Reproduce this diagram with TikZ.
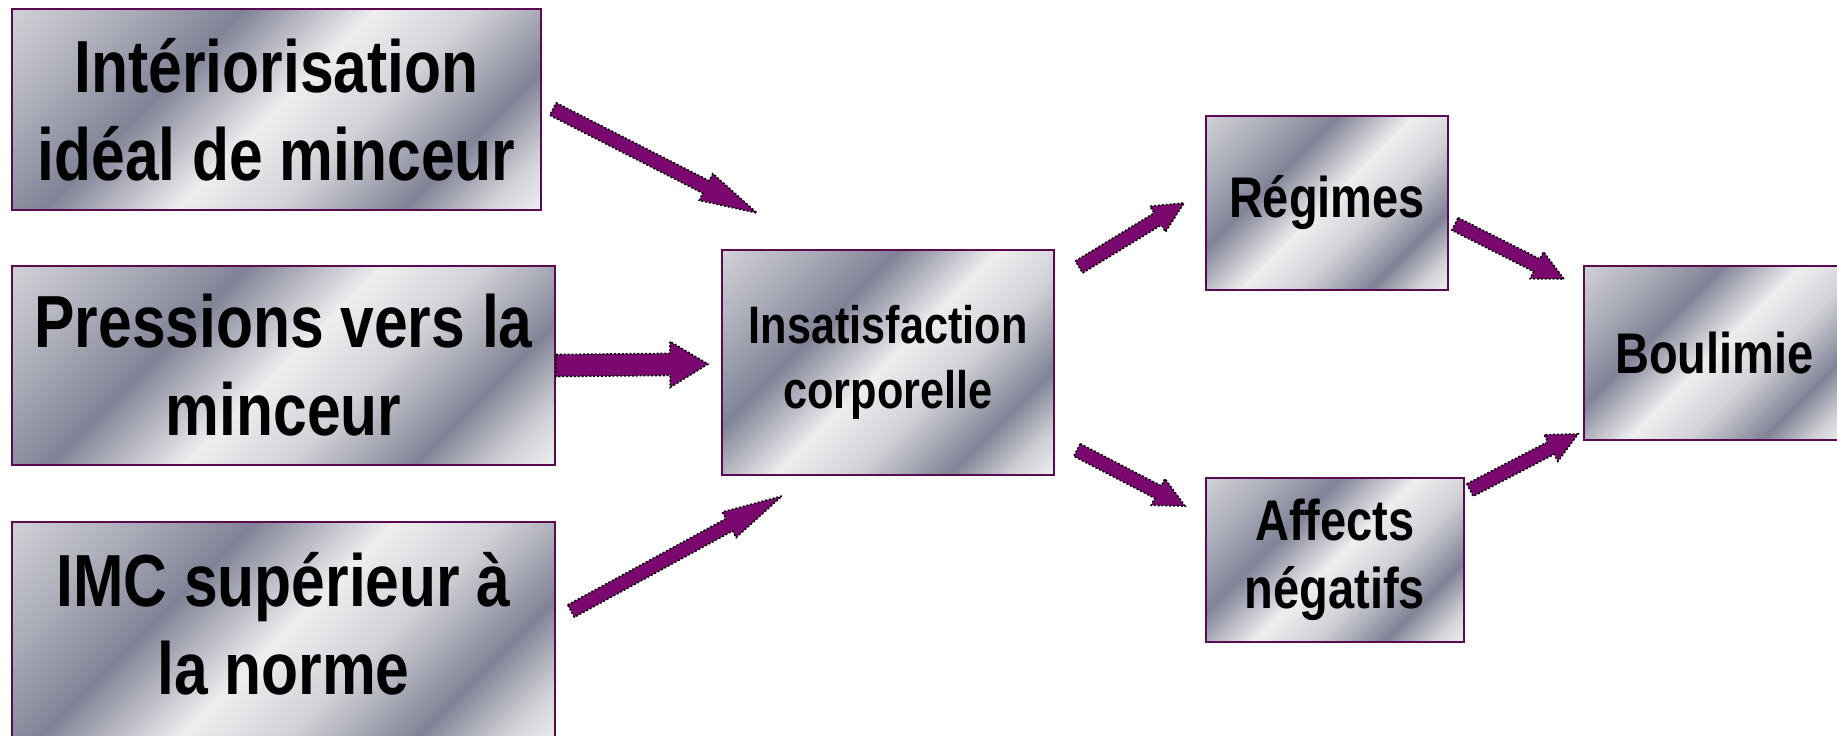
\documentclass[tikz,border=0pt]{standalone}
\usepackage{fontspec}
\setmainfont{Liberation Sans}[FakeStretch=0.82]
\usetikzlibrary{calc}
\definecolor{apurple}{RGB}{122,8,110}
\definecolor{bpurple}{RGB}{90,10,80}
\definecolor{sdark}{RGB}{128,131,150}
\definecolor{sdm}{RGB}{170,172,184}
\definecolor{slight}{RGB}{238,238,240}
\definecolor{smid}{RGB}{208,209,214}
\pgfdeclarehorizontalshading{silver}{100bp}{color(0bp)=(smid); color(14.6bp)=(smid); color(26bp)=(sdm); color(37bp)=(sdark); color(50bp)=(slight); color(60bp)=(smid); color(72bp)=(sdark); color(80bp)=(smid); color(85.4bp)=(slight); color(100bp)=(slight)}
\tikzset{
  box/.style={draw=bpurple, line width=0.02cm, shade, shading=silver, shading angle=-45, align=center, inner sep=0pt},
  bigbox/.style={box, font=\fontsize{21pt}{25pt}\selectfont\bfseries},
  midbox/.style={box, font=\fontsize{15pt}{18.5pt}\selectfont\bfseries},
  smallbox/.style={box, font=\fontsize{16.3pt}{19.2pt}\selectfont\bfseries},
  arrowstyle/.style={fill=apurple, draw=black, line width=0.45pt, dash pattern=on 0.55pt off 0.55pt}
}
\newcommand\blockarrow[4]{%
  \path ($(#1)!0.75!(#2)$) coordinate (bm);
  \filldraw[arrowstyle] ($(#1)!#3!90:(#2)$) -- ($(bm)!#3!90:(#2)$) -- ($(bm)!#4!90:(#2)$) -- (#2)
     -- ($(bm)!#4!-90:(#2)$) -- ($(bm)!#3!-90:(#2)$) -- ($(#1)!#3!-90:(#2)$) -- cycle;
}
\begin{document}
\begin{tikzpicture}[x=0.01cm,y=-0.01cm]
\useasboundingbox (0,0) rectangle (1837,735);
\clip (0,0) rectangle (1837,735);

\node[bigbox, minimum width=5.29cm, minimum height=2.01cm] (n1) at (276.5,109.5) {Intériorisation\\idéal de minceur};
\node[bigbox, minimum width=5.43cm, minimum height=1.99cm] (n2) at (283.5,365.5) {Pressions vers la\\minceur};
\node[bigbox, minimum width=5.43cm, minimum height=2.23cm, text depth=0.21cm] (n3) at (283.5,633.5) {IMC supérieur à\\la norme};
\node[midbox, minimum width=3.32cm, minimum height=2.24cm] (n4) at (888,362.5) {Insatisfaction\\corporelle};
\node[smallbox, minimum width=2.42cm, minimum height=1.74cm] (n5) at (1327,203) {Régimes};
\node[smallbox, minimum width=2.58cm, minimum height=1.63cm] (n6) at (1335,560) {Affects\\négatifs};
\node[smallbox, minimum width=2.61cm, minimum height=1.73cm] (n7) at (1714.5,353) {Boulimie};

\coordinate (a1s) at (553,109);  \coordinate (a1e) at (757,213);
\coordinate (a2s) at (n2.east);  \coordinate (a2e) at (708,364);
\coordinate (a3s) at (571,611);  \coordinate (a3e) at (782,496);
\coordinate (a4s) at (1079,267); \coordinate (a4e) at (1184,203);
\coordinate (a5s) at (1077,450); \coordinate (a5e) at (1185,506);
\coordinate (a6s) at (1455,224); \coordinate (a6e) at (1564,279);
\coordinate (a7s) at (1470,490); \coordinate (a7e) at (1578,434);

\blockarrow{a1s}{a1e}{0.07cm}{0.15cm}
\blockarrow{a2s}{a2e}{0.11cm}{0.23cm}
\blockarrow{a3s}{a3e}{0.07cm}{0.145cm}
\blockarrow{a4s}{a4e}{0.07cm}{0.15cm}
\blockarrow{a5s}{a5e}{0.07cm}{0.15cm}
\blockarrow{a6s}{a6e}{0.07cm}{0.15cm}
\blockarrow{a7s}{a7e}{0.07cm}{0.15cm}
\end{tikzpicture}
\end{document}
